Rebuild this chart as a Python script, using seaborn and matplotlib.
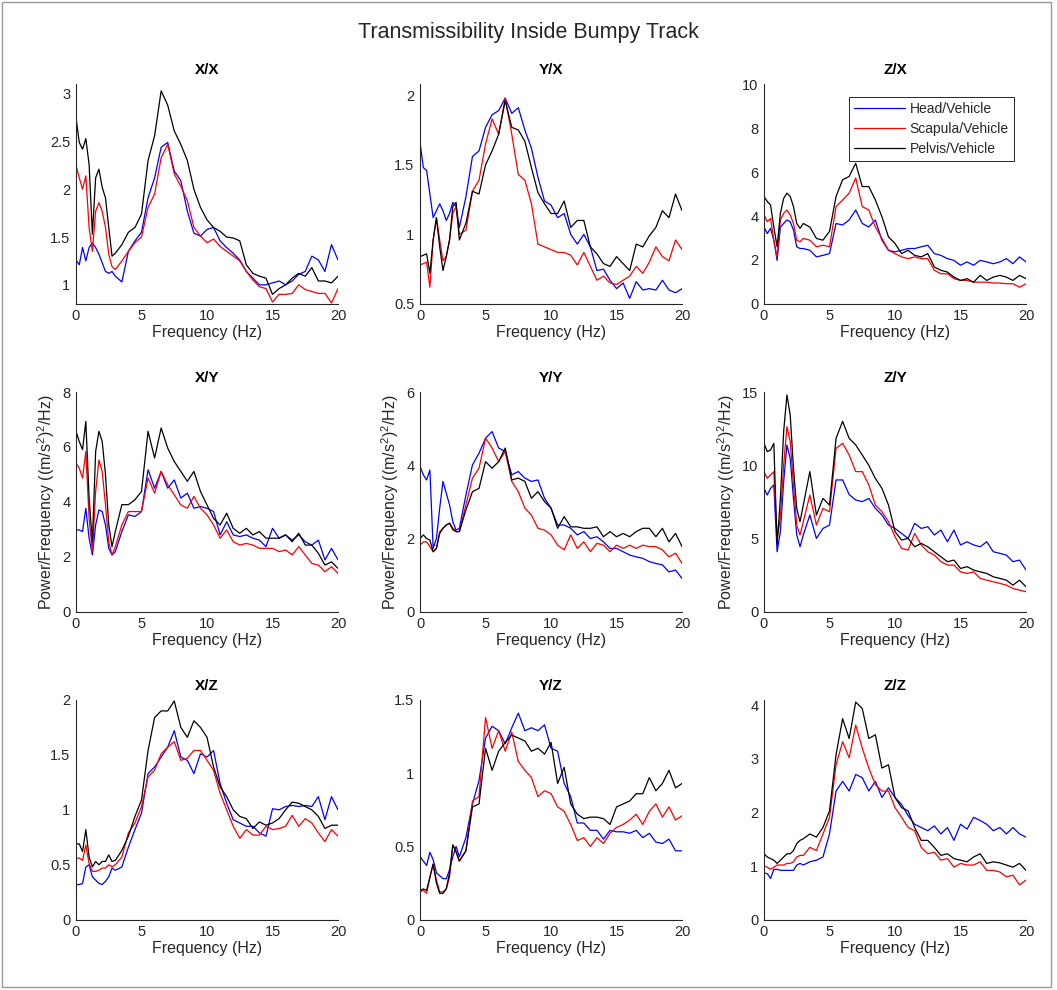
import matplotlib
matplotlib.use("Agg")
import matplotlib.pyplot as plt
import numpy as np
import pandas as pd
import seaborn as sns
from matplotlib.ticker import FuncFormatter
from matplotlib.patches import Rectangle
from matplotlib.lines import Line2D

# ---------------- data ----------------
freq = [0, 0.25, 0.5, 0.75, 1, 1.25, 1.5, 1.75, 2, 2.25, 2.5, 2.75, 3,
        3.5, 4, 4.5, 5, 5.5, 6, 6.5, 7, 7.5, 8, 8.5, 9, 9.5, 10,
        10.5, 11, 11.5, 12, 12.5, 13, 13.5, 14, 14.5, 15, 15.5, 16, 16.5, 17,
        17.5, 18, 18.5, 19, 19.5, 20]

series_names = ["Head/Vehicle", "Scapula/Vehicle", "Pelvis/Vehicle"]
series_colors = ["#0000FF", "#FF0000", "#000000"]

xx_head = [1.26, 1.21, 1.39, 1.25, 1.39, 1.44, 1.39, 1.32, 1.23, 1.14, 1.12, 1.14, 1.09,
           1.03, 1.35, 1.46, 1.55, 1.91, 2.12, 2.44, 2.49, 2.19, 2.09, 1.77, 1.54, 1.51, 1.58,
           1.60, 1.46, 1.39, 1.33, 1.26, 1.14, 1.07, 1.00, 1.00, 1.02, 1.04, 1.00, 1.04, 1.11, 1.14, 1.30, 1.26, 1.14, 1.42, 1.26]
xx_scap = [2.25, 2.12, 2.00, 2.14, 1.60, 1.35, 1.77, 1.86, 1.77, 1.60, 1.32, 1.19, 1.16,
           1.25, 1.35, 1.44, 1.50, 1.81, 1.95, 2.33, 2.47, 2.16, 2.03, 1.88, 1.60, 1.51, 1.44,
           1.48, 1.40, 1.35, 1.30, 1.25, 1.14, 1.05, 0.98, 0.96, 0.82, 0.90, 0.90, 0.91, 1.00, 0.95, 0.93, 0.91, 0.91, 0.81, 0.96]
xx_pelv = [2.75, 2.49, 2.42, 2.53, 2.26, 1.53, 2.12, 2.21, 2.02, 1.91, 1.60, 1.30, 1.33,
           1.42, 1.55, 1.60, 1.74, 2.30, 2.56, 3.03, 2.88, 2.61, 2.47, 2.30, 2.00, 1.81, 1.68,
           1.60, 1.56, 1.50, 1.49, 1.46, 1.21, 1.12, 1.09, 1.07, 0.90, 0.96, 1.00, 1.07, 1.12, 1.09, 1.18, 1.04, 1.04, 1.02, 1.09]

yx_head = [1.66, 1.48, 1.46, 1.29, 1.12, 1.17, 1.22, 1.17, 1.10, 1.15, 1.23, 1.20, 1.05,
           1.27, 1.56, 1.60, 1.77, 1.86, 1.89, 1.98, 1.87, 1.91, 1.75, 1.62, 1.41, 1.24, 1.21,
           1.12, 1.15, 1.00, 0.93, 1.00, 0.91, 0.74, 0.75, 0.67, 0.61, 0.65, 0.54, 0.66, 0.60, 0.61, 0.60, 0.67, 0.60, 0.58, 0.61]
yx_scap = [0.78, 0.79, 0.80, 0.62, 0.96, 1.12, 0.96, 0.81, 0.84, 0.96, 1.15, 1.20, 1.00,
           1.03, 1.31, 1.39, 1.65, 1.83, 1.72, 1.98, 1.72, 1.43, 1.39, 1.22, 0.93, 0.91, 0.89,
           0.87, 0.87, 0.85, 0.78, 0.87, 0.77, 0.67, 0.70, 0.65, 0.64, 0.67, 0.70, 0.77, 0.72, 0.80, 0.91, 0.84, 0.81, 0.96, 0.89]
yx_pelv = [0.84, 0.85, 0.86, 0.72, 0.96, 1.12, 0.91, 0.74, 0.84, 0.96, 1.20, 1.23, 0.96,
           1.08, 1.31, 1.29, 1.50, 1.60, 1.72, 1.96, 1.77, 1.75, 1.67, 1.48, 1.30, 1.22, 1.15,
           1.15, 1.24, 1.05, 1.10, 1.10, 0.91, 0.86, 0.79, 0.77, 0.84, 0.79, 0.74, 0.93, 0.91, 0.99, 1.05, 1.17, 1.12, 1.29, 1.17]

zx_head = [3.50, 3.20, 3.44, 2.90, 1.98, 3.50, 3.66, 3.82, 3.74, 3.36, 2.60, 2.52, 2.52,
           2.44, 2.14, 2.21, 2.29, 3.66, 3.59, 3.82, 4.27, 3.66, 3.50, 3.82, 2.90, 2.44, 2.37,
           2.44, 2.52, 2.52, 2.60, 2.67, 2.29, 2.21, 2.06, 1.98, 1.76, 1.91, 1.76, 1.98, 1.91, 1.83, 1.91, 2.06, 1.83, 2.14, 1.91]
zx_scap = [4.05, 3.74, 3.89, 2.90, 2.14, 3.82, 4.12, 4.27, 4.05, 3.66, 2.90, 2.82, 2.98,
           2.90, 2.60, 2.67, 2.60, 4.43, 4.73, 5.04, 5.73, 4.43, 4.27, 3.50, 2.98, 2.44, 2.29,
           2.14, 2.06, 2.14, 2.06, 2.06, 1.53, 1.37, 1.37, 1.15, 1.07, 1.07, 0.99, 0.99, 0.99, 0.95, 0.95, 0.92, 0.92, 0.76, 0.92]
zx_pelv = [4.89, 4.66, 4.50, 3.50, 2.60, 4.12, 4.80, 5.04, 4.89, 4.43, 3.66, 3.44, 3.66,
           3.50, 2.98, 2.90, 3.30, 4.89, 5.65, 5.80, 6.40, 5.34, 5.34, 4.73, 3.97, 3.05, 2.75,
           2.29, 2.44, 2.21, 2.14, 2.29, 1.68, 1.53, 1.45, 1.22, 1.07, 1.15, 0.99, 1.30, 1.07, 1.22, 1.30, 1.22, 1.07, 1.30, 1.15]

xy_head = [2.98, 2.98, 2.92, 3.77, 2.68, 2.07, 3.16, 3.71, 3.65, 3.16, 2.31, 2.07, 2.19,
           2.92, 3.53, 3.47, 3.65, 5.17, 4.50, 5.11, 4.50, 4.80, 4.14, 4.32, 3.77, 3.83, 3.77,
           3.65, 2.80, 3.28, 2.80, 2.74, 2.80, 2.68, 2.61, 2.37, 3.04, 2.68, 2.80, 2.61, 2.80, 2.55, 2.43, 2.61, 1.89, 2.31, 1.89]
xy_scap = [5.41, 5.23, 4.87, 5.84, 3.40, 2.19, 4.38, 5.53, 5.11, 3.89, 2.55, 2.07, 2.37,
           3.16, 3.65, 3.65, 3.65, 4.87, 4.32, 5.11, 4.62, 4.26, 3.89, 3.77, 4.20, 3.77, 3.53,
           3.16, 2.68, 2.98, 2.55, 2.43, 2.49, 2.43, 2.31, 2.31, 2.31, 2.19, 2.25, 2.07, 2.37, 2.07, 1.76, 1.70, 1.46, 1.64, 1.40]
xy_pelv = [6.57, 6.20, 5.90, 6.93, 4.14, 2.55, 5.84, 6.57, 6.20, 5.00, 3.16, 2.37, 2.92,
           3.90, 3.90, 4.08, 4.38, 6.57, 5.60, 6.69, 5.96, 5.47, 5.11, 4.75, 5.11, 4.38, 3.89,
           3.40, 3.16, 3.59, 3.04, 2.86, 3.04, 2.80, 2.92, 2.68, 2.68, 2.68, 2.80, 2.55, 2.86, 2.43, 2.43, 2.13, 1.70, 1.82, 1.58]

yy_head = [3.97, 3.74, 3.60, 3.87, 1.73, 2.00, 2.83, 3.56, 3.24, 2.92, 2.46, 2.23, 2.28,
           3.19, 4.01, 4.33, 4.74, 4.92, 4.47, 4.38, 3.74, 3.83, 3.65, 3.56, 3.60, 3.10, 2.83,
           2.37, 2.37, 2.28, 2.10, 2.19, 2.00, 2.05, 1.91, 1.73, 1.73, 1.64, 1.55, 1.50, 1.46, 1.37, 1.32, 1.28, 1.09, 1.14, 0.91]
yy_scap = [1.82, 1.91, 1.91, 1.78, 1.64, 1.73, 2.19, 2.28, 2.37, 2.42, 2.23, 2.19, 2.19,
           2.92, 3.65, 3.92, 4.74, 4.47, 4.10, 4.38, 3.56, 3.28, 2.83, 2.64, 2.28, 2.23, 2.10,
           1.82, 1.69, 2.10, 1.73, 1.91, 1.64, 1.87, 1.82, 1.64, 1.82, 1.73, 1.82, 1.73, 1.82, 1.78, 1.78, 1.69, 1.50, 1.60, 1.32]
yy_pelv = [2.00, 2.10, 2.00, 1.96, 1.64, 1.73, 2.14, 2.28, 2.37, 2.42, 2.28, 2.19, 2.19,
           2.78, 3.28, 3.37, 4.10, 3.92, 4.10, 4.47, 3.60, 3.65, 3.56, 3.10, 3.28, 3.01, 2.83,
           2.28, 2.60, 2.32, 2.32, 2.28, 2.28, 2.32, 2.05, 2.19, 2.05, 2.14, 2.05, 2.19, 2.28, 2.28, 2.05, 2.28, 1.91, 2.14, 1.78]

zy_head = [8.43, 7.97, 8.43, 8.66, 4.10, 5.47, 8.88, 11.39, 10.48, 7.74, 5.24, 4.44, 5.24,
           6.61, 5.01, 5.69, 5.92, 9.00, 9.00, 8.00, 7.63, 7.52, 7.74, 7.06, 6.61, 5.92, 5.69,
           5.35, 5.01, 6.04, 5.69, 5.81, 5.24, 5.58, 4.78, 5.58, 4.56, 4.78, 4.56, 4.44, 4.78, 4.10, 3.99, 3.87, 3.42, 3.53, 2.85]
zy_scap = [9.57, 9.11, 9.34, 9.57, 5.01, 6.38, 10.00, 12.64, 11.62, 8.66, 5.92, 5.24, 6.15,
           7.97, 5.92, 7.06, 6.83, 11.16, 11.50, 10.70, 9.57, 9.57, 8.66, 7.29, 6.83, 6.15, 5.13,
           4.33, 4.21, 5.35, 4.56, 4.10, 3.87, 3.42, 3.19, 3.19, 2.73, 2.62, 2.73, 2.28, 2.16, 2.05, 1.94, 1.82, 1.59, 1.48, 1.37]
zy_pelv = [11.50, 10.93, 11.05, 11.50, 4.60, 7.74, 12.30, 14.80, 13.44, 9.79, 7.06, 6.15, 7.29,
           9.57, 6.60, 7.74, 7.29, 11.84, 13.00, 11.84, 11.39, 10.70, 10.00, 9.10, 8.43, 7.29, 5.47,
           4.90, 5.01, 4.44, 4.67, 4.44, 4.10, 3.76, 3.42, 3.53, 2.96, 3.08, 2.85, 2.73, 2.62, 2.39, 2.28, 2.16, 1.82, 2.16, 1.71]

xz_head = [0.32, 0.32, 0.33, 0.48, 0.50, 0.39, 0.36, 0.33, 0.32, 0.35, 0.39, 0.47, 0.45,
           0.48, 0.66, 0.82, 0.97, 1.33, 1.39, 1.48, 1.57, 1.72, 1.48, 1.45, 1.33, 1.51, 1.48,
           1.54, 1.24, 1.06, 0.91, 0.88, 0.85, 0.85, 0.79, 0.76, 1.01, 1.00, 1.03, 1.04, 1.03, 1.04, 1.03, 1.12, 0.91, 1.12, 1.00]
xz_scap = [0.56, 0.56, 0.54, 0.68, 0.51, 0.44, 0.44, 0.45, 0.47, 0.47, 0.50, 0.48, 0.50,
           0.57, 0.79, 0.88, 1.03, 1.30, 1.36, 1.51, 1.57, 1.62, 1.45, 1.47, 1.54, 1.54, 1.45,
           1.36, 1.15, 1.00, 0.85, 0.74, 0.82, 0.77, 0.77, 0.85, 0.82, 0.83, 0.85, 0.95, 0.85, 0.92, 0.88, 0.79, 0.71, 0.82, 0.76]
xz_pelv = [0.69, 0.69, 0.62, 0.82, 0.57, 0.48, 0.53, 0.50, 0.53, 0.53, 0.59, 0.53, 0.54,
           0.63, 0.76, 0.94, 1.09, 1.54, 1.84, 1.90, 1.90, 1.99, 1.75, 1.66, 1.81, 1.75, 1.66,
           1.39, 1.21, 1.12, 1.00, 0.94, 0.92, 0.83, 0.89, 0.86, 0.88, 0.92, 1.00, 1.07, 1.06, 1.03, 1.00, 0.94, 0.83, 0.86, 0.86]

yz_head = [0.43, 0.40, 0.37, 0.46, 0.41, 0.32, 0.30, 0.28, 0.28, 0.34, 0.43, 0.50, 0.43,
           0.56, 0.79, 0.95, 1.24, 1.32, 1.29, 1.20, 1.31, 1.41, 1.29, 1.31, 1.29, 1.33, 1.17,
           1.15, 0.93, 0.84, 0.66, 0.66, 0.61, 0.61, 0.55, 0.61, 0.60, 0.60, 0.59, 0.61, 0.56, 0.59, 0.53, 0.52, 0.55, 0.47, 0.47]
yz_scap = [0.19, 0.20, 0.18, 0.29, 0.38, 0.27, 0.19, 0.19, 0.21, 0.29, 0.51, 0.47, 0.40,
           0.47, 0.81, 0.84, 1.38, 1.17, 1.29, 1.15, 1.28, 1.08, 1.02, 0.97, 0.84, 0.88, 0.86,
           0.77, 0.74, 0.65, 0.54, 0.56, 0.50, 0.56, 0.52, 0.59, 0.63, 0.65, 0.68, 0.72, 0.65, 0.74, 0.79, 0.70, 0.77, 0.68, 0.71]
yz_pelv = [0.20, 0.21, 0.20, 0.29, 0.38, 0.25, 0.18, 0.18, 0.21, 0.32, 0.51, 0.46, 0.40,
           0.47, 0.77, 0.79, 1.17, 1.02, 1.15, 1.21, 1.26, 1.24, 1.22, 1.15, 1.17, 1.13, 1.21,
           0.93, 1.04, 0.79, 0.72, 0.69, 0.70, 0.70, 0.69, 0.65, 0.77, 0.79, 0.81, 0.86, 0.86, 0.97, 0.88, 0.93, 1.02, 0.90, 0.93]

zz_head = [0.87, 0.86, 0.77, 0.94, 0.94, 0.92, 0.92, 0.92, 0.92, 0.92, 1.02, 1.05, 1.02,
           1.08, 1.11, 1.17, 1.60, 2.40, 2.58, 2.40, 2.71, 2.65, 2.40, 2.58, 2.28, 2.46, 2.28,
           2.15, 1.94, 1.78, 1.72, 1.66, 1.75, 1.60, 1.72, 1.48, 1.78, 1.69, 1.91, 1.85, 1.78, 1.66, 1.72, 1.60, 1.72, 1.60, 1.54]
zz_scap = [1.00, 0.98, 0.94, 0.98, 1.02, 1.02, 1.02, 1.05, 1.05, 1.08, 1.17, 1.20, 1.20,
           1.35, 1.29, 1.60, 1.91, 2.89, 3.32, 3.02, 3.63, 3.20, 2.83, 2.52, 2.40, 2.40, 2.09,
           1.91, 1.72, 1.66, 1.35, 1.23, 1.26, 1.11, 1.14, 0.98, 1.05, 1.02, 1.02, 1.08, 0.92, 0.92, 0.89, 0.80, 0.83, 0.65, 0.74]
zz_pelv = [1.23, 1.17, 1.14, 1.11, 1.05, 1.11, 1.17, 1.23, 1.23, 1.29, 1.42, 1.48, 1.51,
           1.60, 1.54, 1.72, 2.03, 3.08, 3.75, 3.38, 4.06, 3.94, 3.38, 3.45, 2.83, 2.89, 2.28,
           2.09, 2.03, 1.72, 1.48, 1.48, 1.35, 1.20, 1.23, 1.14, 1.11, 1.08, 1.17, 1.23, 1.05, 1.08, 1.06, 1.02, 0.98, 1.05, 0.92]

panel_titles = ["X/X", "Y/X", "Z/X", "X/Y", "Y/Y", "Z/Y", "X/Z", "Y/Z", "Z/Z"]
panel_series = [
    (xx_head, xx_scap, xx_pelv), (yx_head, yx_scap, yx_pelv), (zx_head, zx_scap, zx_pelv),
    (xy_head, xy_scap, xy_pelv), (yy_head, yy_scap, yy_pelv), (zy_head, zy_scap, zy_pelv),
    (xz_head, xz_scap, xz_pelv), (yz_head, yz_scap, yz_pelv), (zz_head, zz_scap, zz_pelv),
]
panel_ylims = [(0.8, 3.1), (0.5, 2.08), (0, 10), (0, 8), (0, 6), (0, 15), (0, 2), (0, 1.5), (0, 4.1)]
panel_yticks = [[1, 1.5, 2, 2.5, 3], [0.5, 1, 1.5, 2], [0, 2, 4, 6, 8, 10], [0, 2, 4, 6, 8],
                [0, 2, 4, 6], [0, 5, 10, 15], [0, 0.5, 1, 1.5, 2], [0, 0.5, 1, 1.5], [0, 1, 2, 3, 4]]
xticks = [0, 5, 10, 15, 20]

# ---------------- build tidy frame ----------------
rows = []
for title, trio in zip(panel_titles, panel_series):
    for name, vals in zip(series_names, trio):
        for f, v in zip(freq, vals):
            rows.append((title, name, f, v))
df = pd.DataFrame(rows, columns=["panel", "series", "freq", "value"])

# ---------------- plotting ----------------
sns.set_style("white")
plt.rcParams["font.family"] = ["Liberation Sans", "DejaVu Sans"]
plt.rcParams["mathtext.fontset"] = "custom"
plt.rcParams["mathtext.rm"] = "Liberation Sans"

fig = plt.figure(figsize=(10.57, 9.9), dpi=100)
lefts = [0.0719, 0.3974, 0.7228]
bottoms = [0.693, 0.382, 0.071]
w, h = 0.2479, 0.222
dark = "#262626"
palette = dict(zip(series_names, series_colors))
fmt = FuncFormatter(lambda v, p: f"{v:g}")

for i, title in enumerate(panel_titles):
    r, c = divmod(i, 3)
    ax = fig.add_axes([lefts[c], bottoms[r], w, h])
    sub = df[df["panel"] == title]
    sns.lineplot(data=sub, x="freq", y="value", hue="series", hue_order=series_names,
                 palette=palette, estimator=None, errorbar=None, sort=False,
                 linewidth=0.9, legend=False, ax=ax)
    ax.set_xlim(0, 20)
    ax.set_ylim(*panel_ylims[i])
    ax.set_xticks(xticks)
    ax.set_yticks(panel_yticks[i])
    ax.xaxis.set_major_formatter(fmt)
    ax.yaxis.set_major_formatter(fmt)
    for s in ["top", "right"]:
        ax.spines[s].set_visible(False)
    for s in ["left", "bottom"]:
        ax.spines[s].set_color(dark)
        ax.spines[s].set_linewidth(0.8)
    ax.tick_params(direction="in", length=3, width=0.7, labelsize=10.5,
                   colors=dark, pad=4)
    ax.set_title(title, fontweight="bold", fontsize=11, pad=7, color="black")
    ax.set_xlabel("Frequency (Hz)", fontsize=11.5, color=dark, labelpad=1)
    if r == 1:
        ax.set_ylabel(r"Power/Frequency ((m/s$^2$)$^2$/Hz)", fontsize=11.5, color=dark, labelpad=4)
    else:
        ax.set_ylabel("")
    if title == "Z/X":
        handles = [Line2D([], [], color=col, lw=0.9) for col in series_colors]
        leg = ax.legend(handles, series_names, loc="upper right", fontsize=10,
                        frameon=True, fancybox=False, edgecolor=dark, framealpha=1,
                        handlelength=3.7, borderaxespad=0.9, borderpad=0.35,
                        labelspacing=0.45, handletextpad=0.3)
        leg.get_frame().set_linewidth(0.7)

fig.text(0.5, 0.967, "Transmissibility Inside Bumpy Track", ha="center", va="center",
         fontsize=15.5, color=dark)
fig.patches.append(Rectangle((0.002, 0.003), 0.992, 0.995, transform=fig.transFigure,
                             fill=False, edgecolor="#9a9a9a", linewidth=1.0))

fig.savefig("out.png", dpi=100, facecolor="white")
